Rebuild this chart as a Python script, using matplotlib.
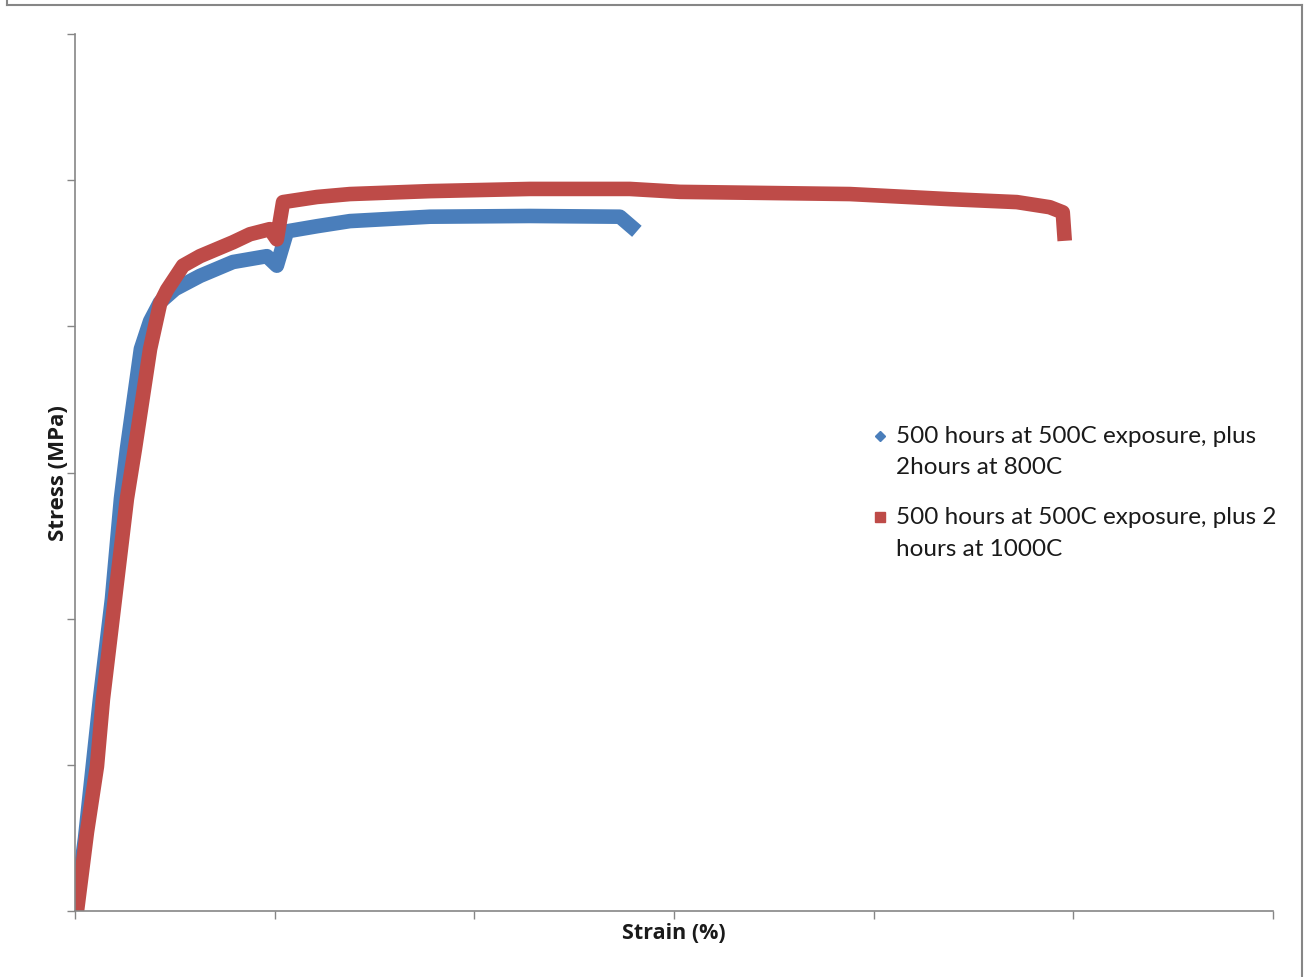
import matplotlib.pyplot as plt
from matplotlib.lines import Line2D
import numpy as np

# strain (%) and stress (MPa)
strain_800 = [0.00, 0.05, 0.125, 0.185, 0.23, 0.26, 0.33, 0.376, 0.426, 0.501,
              0.626, 0.791, 0.961, 1.011, 1.062, 1.212, 1.377, 1.778, 2.278, 2.729, 2.814]
stress_800 = [0, 99, 290, 427, 564, 632, 769, 807, 833, 851,
              869, 888, 896, 883, 930, 937, 944, 950, 951, 950, 930]

strain_1000 = [0.01, 0.06, 0.11, 0.14, 0.20, 0.26, 0.30, 0.376, 0.426, 0.461, 0.541,
               0.626, 0.791, 0.876, 0.976, 1.011, 1.042, 1.212, 1.377, 1.778, 2.278,
               2.779, 3.029, 3.881, 4.382, 4.717, 4.882, 4.947, 4.957]
stress_1000 = [0, 108, 198, 290, 427, 564, 632, 769, 831, 850, 883,
               896, 915, 926, 933, 919, 970, 977, 981, 985, 988,
               988, 984, 981, 974, 970, 963, 956, 917]

label_800 = ["500 hours at 500C exposure, plus", "2hours at 800C"]
label_1000 = ["500 hours at 500C exposure, plus 2", "hours at 1000C"]

blue = "#4a7ebb"
red = "#be4b48"
grey = "#868686"
W, H = 1306, 978

fig = plt.figure(figsize=(W / 100, H / 100), dpi=100)
ax = fig.add_axes([75 / W, 1 - 912 / H, (1273 - 75) / W, (912 - 35) / H])

ax.plot(strain_800, stress_800, color=blue, lw=10.5, solid_joinstyle="round",
        solid_capstyle="butt")
ax.plot(strain_1000, stress_1000, color=red, lw=10.5, solid_joinstyle="round",
        solid_capstyle="butt")

ax.set_xlim(0, 6)
ax.set_ylim(0, 1200)
ax.set_xticks(np.arange(0, 7, 1))
ax.set_yticks(np.arange(0, 1201, 200))
ax.set_xticklabels([])
ax.set_yticklabels([])
ax.tick_params(direction="out", length=5.5, width=1, color=grey)
for s in ["top", "right"]:
    ax.spines[s].set_visible(False)
for s in ["left", "bottom"]:
    ax.spines[s].set_color(grey)
    ax.spines[s].set_linewidth(1.2)

ax.set_xlabel("Strain (%)", fontsize=15.5, fontweight="bold", family="Open Sans",
              color="#1a1a1a", va="center", ha="center")
ax.set_ylabel("Stress (MPa)", fontsize=16, fontweight="bold", family="Open Sans",
              color="#1a1a1a", va="center", ha="center")
ax.xaxis.set_label_coords(0.5, -(934 - 912) / 877)
ax.yaxis.set_label_coords(-(75 - 59) / 1198, 0.5)

# legend, marker lined up with the first text line as in the original
legend_rows = [(label_800, "D", 5.5, blue, 437), (label_1000, "s", 7.5, red, 518)]
for lines, mk, ms, col, ypx in legend_rows:
    fig.add_artist(Line2D([880 / W], [1 - ypx / H], ls="none", marker=mk, ms=ms,
                          color=col, transform=fig.transFigure))
    for i, line in enumerate(lines):
        fig.text(896 / W, 1 - (ypx + i * 31) / H, line, family="Lato", fontsize=17.5,
                 color="#1a1a1a", va="center")

# outer chart border
for xs, ys in [([7, 7], [-10, 6]), ([7, 1302], [6, 6]), ([1302, 1302], [6, 990])]:
    fig.add_artist(Line2D([x / W for x in xs], [1 - y / H for y in ys],
                          color=grey, lw=1.5, transform=fig.transFigure))

fig.savefig("out.png", dpi=100)
